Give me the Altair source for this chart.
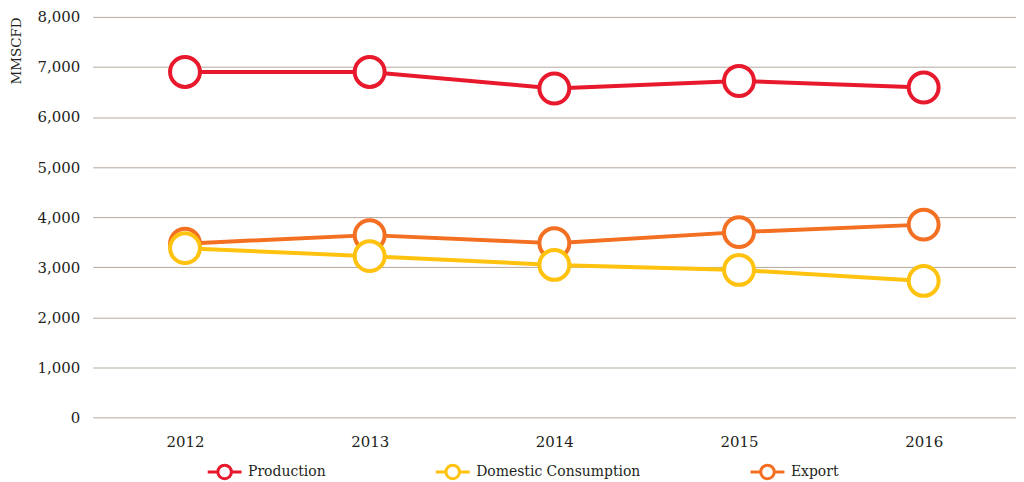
import altair as alt
import pandas as pd

years = ["2012", "2013", "2014", "2015", "2016"]
series = ["Production", "Domestic Consumption", "Export"]
production = [6900, 6900, 6570, 6720, 6590]
domestic = [3380, 3220, 3045, 2945, 2725]
export = [3470, 3640, 3480, 3700, 3850]
colors = ["#e8192c", "#ffc20e", "#f36f21"]

rows = []
for name, vals in [("Production", production), ("Export", export), ("Domestic Consumption", domestic)]:
    for i, (y, v) in enumerate(zip(years, vals)):
        rows.append({"year": y, "series": name, "value": v, "ord": len(rows)})
df = pd.DataFrame(rows)

FONT = "DejaVu Serif"
TXT = "#231f20"
legend_path = "M-1,0L-0.4,0M0.4,0L1,0M0.4,0A0.4,0.4,0,1,1,-0.4,0A0.4,0.4,0,1,1,0.4,0"

x = alt.X("year:O", sort=years, scale=alt.Scale(padding=0.5),
          axis=alt.Axis(title=None, labelAngle=0, ticks=False, domain=False, grid=False,
                        labelPadding=17, labelFontSize=15, labelFont=FONT, labelColor=TXT))
y = alt.Y("value:Q", scale=alt.Scale(domain=[0, 8000], nice=False),
          axis=alt.Axis(title="MMSCFD", values=list(range(0, 8001, 1000)), format=",.0f",
                        ticks=False, domain=False, grid=True, gridColor="#b3a89d", gridWidth=1,
                        labelPadding=13, labelFontSize=15, labelFont=FONT, labelColor=TXT,
                        titleFont=FONT, titleFontSize=13.5, titleFontWeight="normal", titleColor=TXT,
                        titleAnchor="end", titlePadding=14))
color = alt.Color("series:N", scale=alt.Scale(domain=series, range=colors),
                  legend=alt.Legend(title=None, orient="none", direction="horizontal",
                                    legendX=114, legendY=438, symbolType=legend_path,
                                    symbolSize=1156, symbolStrokeWidth=3, symbolFillColor="white",
                                    labelFont=FONT, labelFontSize=14, labelColor=TXT,
                                    labelOffset=5, columnPadding=104, labelLimit=400))

base = alt.Chart(df)
lines = base.mark_line(strokeWidth=4).encode(x=x, y=y, color=color)
points = base.mark_point(shape="circle", size=900, fill="white", strokeWidth=4, opacity=1,
                         fillOpacity=1).encode(x=x, y=y, color=color, order="ord:Q")

chart = alt.layer(lines, points).properties(
    width=927, height=402,
    autosize=alt.AutoSizeParams(type="none"),
    padding={"left": 85, "top": 8, "right": 0, "bottom": 64},
    background="white",
).configure_view(stroke=None)

chart.save("out.html", embed_options={"renderer": "svg", "actions": False})
